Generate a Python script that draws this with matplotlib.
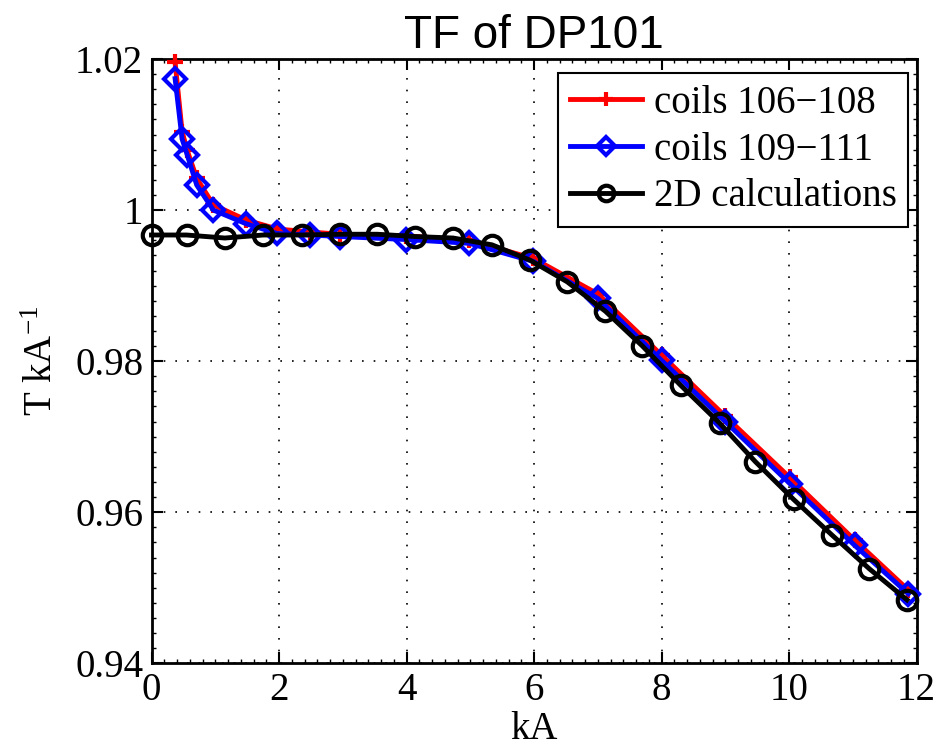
import matplotlib
matplotlib.use("Agg")
import matplotlib.pyplot as plt
from matplotlib.ticker import MultipleLocator

# Data
x_red = [0.37, 0.48, 0.56, 0.71, 0.97, 1.48, 1.97, 2.49, 2.96, 3.99, 4.98, 5.99, 7.0, 8.0, 9.0, 10.01, 11.03, 11.87]
y_red = [1.0196, 1.0104, 1.0079, 1.0042, 1.0007, 0.9987, 0.9975, 0.9971, 0.9968, 0.9966, 0.9960, 0.9936, 0.9889, 0.9808, 0.9727, 0.9646, 0.9563, 0.9497]

x_blue = [0.37, 0.48, 0.56, 0.71, 0.97, 1.48, 1.97, 2.49, 2.96, 3.99, 4.98, 5.99, 7.0, 8.0, 9.0, 10.01, 11.03, 11.87]
y_blue = [1.0174, 1.0094, 1.0073, 1.0033, 1.0000, 0.9982, 0.9969, 0.9967, 0.9965, 0.9961, 0.9956, 0.9932, 0.9883, 0.9801, 0.9720, 0.9638, 0.9556, 0.9492]

x_2d = [0.0, 0.55, 1.15, 1.75, 2.36, 2.95, 3.54, 4.13, 4.73, 5.34, 5.93, 6.52, 7.12, 7.70, 8.30, 8.91, 9.47, 10.07, 10.67, 11.26, 11.85]
y_2d = [0.9967, 0.9967, 0.9963, 0.9967, 0.9967, 0.9968, 0.9968, 0.9965, 0.9963, 0.9954, 0.9934, 0.9905, 0.9866, 0.9820, 0.9768, 0.9718, 0.9667, 0.9617, 0.9570, 0.9525, 0.9484]

labels = ["coils 106\u2212108", "coils 109\u2212111", "2D calculations"]
x_ticks = [0, 2, 4, 6, 8, 10, 12]
y_ticks = [0.94, 0.96, 0.98, 1.0, 1.02]
y_ticklabels = ["0.94", "0.96", "0.98", "1", "1.02"]

plt.rcParams['font.family'] = ['Liberation Serif', 'DejaVu Serif']
plt.rcParams['mathtext.fontset'] = 'custom'
plt.rcParams['mathtext.rm'] = 'Liberation Serif'
plt.rcParams['mathtext.it'] = 'Liberation Serif:italic'

fig = plt.figure(figsize=(9.4, 7.49), dpi=100)
ax = fig.add_axes([151.5/940, 1-663.3/749, (916.6-151.5)/940, (663.3-59)/749])

ax.plot(x_red, y_red, color='red', lw=3.5, marker='+', ms=12, mew=3, label=labels[0], zorder=3, clip_on=False)
ax.plot(x_blue, y_blue, color='blue', lw=3.5, marker='D', ms=11, mew=3, mfc='none', label=labels[1], zorder=4, clip_on=False)
ax.plot(x_2d, y_2d, color='black', lw=3.5, marker='o', ms=14, mew=3, mfc='none', label=labels[2], zorder=5, clip_on=False)

ax.set_xlim(0, 12)
ax.set_ylim(0.94, 1.02)
ax.set_xticks(x_ticks)
ax.set_xticklabels([str(t) for t in x_ticks])
ax.set_yticks(y_ticks)
ax.set_yticklabels(y_ticklabels)
ax.xaxis.set_minor_locator(MultipleLocator(0.2))
ax.yaxis.set_minor_locator(MultipleLocator(0.002))
ax.tick_params(which='major', direction='in', length=8, width=1.5, top=True, right=True, labelsize=28, pad=6)
ax.tick_params(which='minor', direction='in', length=3, width=1, top=True, right=True)
ax.grid(True, which='major', linestyle=(0, (1, 6)), color='black', lw=1.2)
for s in ax.spines.values():
    s.set_linewidth(2)

ax.set_xlabel('kA', fontsize=28, labelpad=2)
ax.set_ylabel('T kA$^{-1}$', fontsize=28, labelpad=10)
ax.set_title('TF of DP101', fontsize=33, fontfamily='Liberation Sans', pad=8)

leg = ax.legend(loc='upper right', bbox_to_anchor=((908.3-151.5)/765.1, (663.3-73.3)/604.3),
                borderaxespad=0, fontsize=28, fancybox=False, framealpha=1, edgecolor='black',
                handlelength=1.85, handletextpad=0.3, labelspacing=0.25, borderpad=0.3, markerscale=0.8)
leg.get_frame().set_linewidth(1.5)

fig.savefig('out.png', dpi=100)
